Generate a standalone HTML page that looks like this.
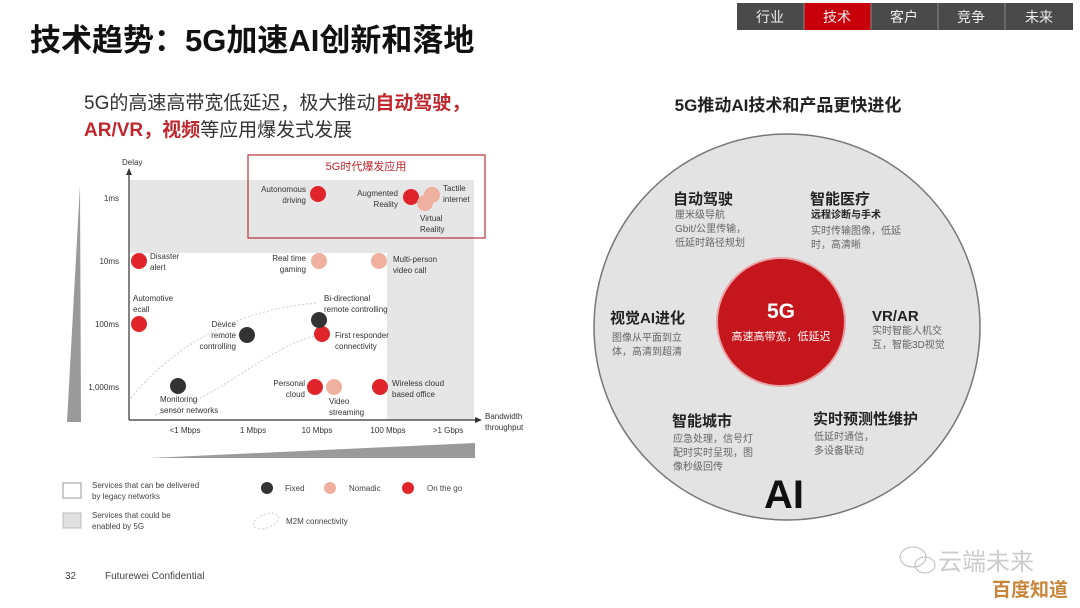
<!DOCTYPE html>
<html><head><meta charset="utf-8"><style>
html,body{margin:0;padding:0;background:#fff;}
svg{display:block;font-family:"Liberation Sans","Noto Sans CJK SC",sans-serif;}
</style></head><body>
<svg width="1080" height="608" viewBox="0 0 1080 608" xmlns="http://www.w3.org/2000/svg">
<!-- nav -->
<rect x="737" y="3" width="336" height="27" fill="#4a4a4a"/>
<rect x="804" y="3" width="67" height="27" fill="#c8000a"/>
<g stroke="#888" stroke-width="1"><line x1="804" y1="3" x2="804" y2="30"/><line x1="871" y1="3" x2="871" y2="30"/><line x1="938" y1="3" x2="938" y2="30"/><line x1="1005" y1="3" x2="1005" y2="30"/></g>
<g fill="#eee" font-size="14" text-anchor="middle"><text x="770" y="22">行业</text><text x="837" y="22">技术</text><text x="904" y="22">客户</text><text x="971" y="22">竞争</text><text x="1039" y="22">未来</text></g>
<!-- title -->
<text x="30" y="51" font-size="31" font-weight="bold" fill="#111">技术趋势：5G加速AI创新和落地</text>
<text x="84" y="109" font-size="19" fill="#333">5G的高速高带宽低延迟，极大推动<tspan fill="#c0272d" font-weight="bold">自动驾驶，</tspan></text>
<text x="84" y="136" font-size="19" fill="#333"><tspan fill="#c0272d" font-weight="bold">AR/VR，视频</tspan>等应用爆发式发展</text>
<!-- chart shading -->
<rect x="130" y="180" width="344" height="73" fill="#e6e6e6"/>
<rect x="387" y="253" width="87" height="167" fill="#e6e6e6"/>
<polygon points="67,422 81,422 80,185" fill="#9a9a9a"/>
<polygon points="150,458 475,443 475,458" fill="#9a9a9a"/>
<rect x="248" y="155" width="237" height="83" fill="none" stroke="#b5323a" stroke-width="1.2"/>
<text x="366" y="170" font-size="11" fill="#c0272d" text-anchor="middle">5G时代爆发应用</text>
<!-- axes -->
<g stroke="#333" stroke-width="1.2"><line x1="129" y1="420" x2="129" y2="172"/><line x1="129" y1="420" x2="478" y2="420"/></g>
<polygon points="129,168 126,175 132,175" fill="#333"/>
<polygon points="482,420 475,417 475,423" fill="#333"/>
<!-- M2M dashed curves -->
<g fill="none" stroke="#ccc" stroke-width="1" stroke-dasharray="2,2"><path d="M131,398 C170,350 230,310 318,303"/><path d="M155,415 C220,400 260,350 318,335"/></g>
<g font-size="8" fill="#333">
<text x="122" y="165">Delay</text>
<g text-anchor="end"><text x="119" y="201">1ms</text><text x="119" y="264">10ms</text><text x="119" y="327">100ms</text><text x="119" y="390">1,000ms</text></g>
<g text-anchor="middle"><text x="185" y="433">&lt;1 Mbps</text><text x="253" y="433">1 Mbps</text><text x="317" y="433">10 Mbps</text><text x="388" y="433">100 Mbps</text><text x="448" y="433">&gt;1 Gbps</text></g>
<text x="485" y="419">Bandwidth</text><text x="485" y="430">throughput</text>
<g text-anchor="end"><text x="306" y="192">Autonomous</text><text x="306" y="203">driving</text><text x="398" y="196">Augmented</text><text x="398" y="207">Reality</text><text x="306" y="261">Real time</text><text x="306" y="272">gaming</text><text x="236" y="327">Device</text><text x="236" y="338">remote</text><text x="236" y="349">controlling</text><text x="305" y="386">Personal</text><text x="305" y="397">cloud</text></g>
<text x="443" y="191">Tactile</text><text x="443" y="202">internet</text>
<text x="420" y="221">Virtual</text><text x="420" y="232">Reality</text>
<text x="150" y="259">Disaster</text><text x="150" y="270">alert</text>
<text x="393" y="262">Multi-person</text><text x="393" y="273">video call</text>
<text x="133" y="301">Automotive</text><text x="133" y="312">ecall</text>
<text x="324" y="301">Bi-directional</text><text x="324" y="312">remote controlling</text>
<text x="335" y="338">First responder</text><text x="335" y="349">connectivity</text>
<text x="160" y="402">Monitoring</text><text x="160" y="413">sensor networks</text>
<text x="329" y="404">Video</text><text x="329" y="415">streaming</text>
<text x="392" y="386">Wireless cloud</text><text x="392" y="397">based office</text>
</g>
<!-- dots -->
<g fill="#e0242b"><circle cx="318" cy="194" r="8"/><circle cx="411" cy="197" r="8"/><circle cx="139" cy="261" r="8"/><circle cx="139" cy="324" r="8"/><circle cx="322" cy="334" r="8"/><circle cx="315" cy="387" r="8"/><circle cx="380" cy="387" r="8"/></g>
<g fill="#f0b0a0"><circle cx="425" cy="203" r="8"/><circle cx="432" cy="195" r="8"/><circle cx="319" cy="261" r="8"/><circle cx="379" cy="261" r="8"/><circle cx="334" cy="387" r="8"/></g>
<g fill="#333"><circle cx="247" cy="335" r="8"/><circle cx="319" cy="320" r="8"/><circle cx="178" cy="386" r="8"/></g>
<!-- legend -->
<rect x="63" y="483" width="18" height="15" fill="#fff" stroke="#999"/>
<rect x="63" y="513" width="18" height="15" fill="#e0e0e0" stroke="#bbb"/>
<g font-size="8" fill="#444"><text x="92" y="488">Services that can be delivered</text><text x="92" y="499">by legacy networks</text><text x="92" y="518">Services that could be</text><text x="92" y="529">enabled by 5G</text>
<text x="285" y="491">Fixed</text><text x="349" y="491">Nomadic</text><text x="427" y="491">On the go</text><text x="286" y="524">M2M connectivity</text></g>
<circle cx="267" cy="488" r="6" fill="#333"/><circle cx="330" cy="488" r="6" fill="#f0b0a0"/><circle cx="408" cy="488" r="6" fill="#e0242b"/>
<ellipse cx="266" cy="521" rx="13" ry="7" fill="none" stroke="#ccc" stroke-dasharray="2,2" transform="rotate(-20 266 521)"/>
<g font-size="10" fill="#444"><text x="65" y="579">32</text><text x="105" y="579">Futurewei  Confidential</text></g>
<!-- right -->
<text x="788" y="111" font-size="17" font-weight="bold" fill="#222" text-anchor="middle">5G推动AI技术和产品更快进化</text>
<circle cx="787" cy="327" r="193" fill="#e3e3e3" stroke="#777" stroke-width="1.5"/>
<circle cx="781" cy="322" r="64" fill="#c4161c" stroke="#e9a3a6" stroke-width="2"/>
<text x="781" y="318" font-size="21" font-weight="bold" fill="#fff" text-anchor="middle">5G</text>
<text x="781" y="340" font-size="11" fill="#fff" text-anchor="middle">高速高带宽，低延迟</text>
<g fill="#222" font-weight="bold" font-size="15"><text x="673" y="204">自动驾驶</text><text x="810" y="204">智能医疗</text><text x="610" y="323">视觉AI进化</text><text x="872" y="321">VR/AR</text><text x="672" y="426">智能城市</text><text x="813" y="424">实时预测性维护</text></g>
<text x="811" y="218" font-size="10" font-weight="bold" fill="#222">远程诊断与手术</text>
<g font-size="10" fill="#666">
<text x="675" y="218">厘米级导航</text><text x="675" y="232">Gbit/公里传输，</text><text x="675" y="246">低延时路径规划</text>
<text x="811" y="234">实时传输图像，低延</text><text x="811" y="248">时，高清晰</text>
<text x="612" y="341">图像从平面到立</text><text x="612" y="355">体，高清到超清</text>
<text x="872" y="334">实时智能人机交</text><text x="872" y="348">互，智能3D视觉</text>
<text x="673" y="442">应急处理，信号灯</text><text x="673" y="456">配时实时呈现，图</text><text x="673" y="470">像秒级回传</text>
<text x="814" y="440">低延时通信，</text><text x="814" y="454">多设备联动</text>
</g>
<text x="784" y="508" font-size="40" font-weight="bold" fill="#111" text-anchor="middle">AI</text>
<!-- watermark -->
<g fill="none" stroke="#bbb"><ellipse cx="913" cy="557" rx="13" ry="10"/><ellipse cx="925" cy="565" rx="10" ry="8"/></g>
<text x="938" y="570" font-size="24" fill="#ccc">云端未来</text>
<text x="992" y="596" font-size="19" font-weight="bold" fill="#c9863a">百度知道</text>
</svg>
</body></html>
